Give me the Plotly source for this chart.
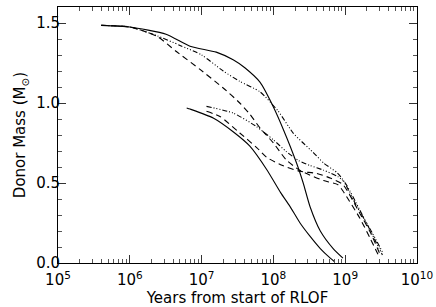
import plotly.graph_objects as go

# Upper group (initial donor mass ~1.48 Msun)
up_solid_x = [4e5, 1e6, 3.2e6, 6.9e6, 1.6e7, 2.75e7, 4e7, 6.5e7, 1e8, 1.38e8, 2.1e8, 2.6e8, 3.25e8, 4.5e8, 6.8e8, 9.3e8]
up_solid_y = [1.485, 1.475, 1.43, 1.355, 1.318, 1.27, 1.22, 1.13, 0.975, 0.833, 0.625, 0.5, 0.35, 0.2, 0.09, 0.03]

up_dashdot_x = [4e5, 1e6, 2.4e6, 5e6, 1e7, 2e7, 3.4e7, 6.5e7, 1.17e8, 1.9e8, 2.6e8, 3.6e8, 5e8, 7.8e8, 9.3e8, 1.45e9, 2.25e9, 3.4e9]
up_dashdot_y = [1.485, 1.475, 1.42, 1.36, 1.30, 1.20, 1.135, 1.07, 0.948, 0.81, 0.75, 0.69, 0.625, 0.5625, 0.52, 0.354, 0.208, 0.058]

up_dash_x = [4e5, 1e6, 2.4e6, 4.5e6, 9.5e6, 2e7, 3.4e7, 4.7e7, 6.5e7, 1e8, 1.5e8, 2.25e8, 3.2e8, 5e8, 7.9e8, 9.3e8, 1.6e9, 2.25e9, 3.0e9]
up_dash_y = [1.485, 1.475, 1.416, 1.32, 1.21, 1.094, 1.0, 0.93, 0.844, 0.75, 0.646, 0.583, 0.55, 0.515, 0.49, 0.45, 0.28, 0.15, 0.035]

# Lower group (initial donor mass ~0.97 Msun)
lo_solid_x = [6.2e6, 6.9e6, 1.45e7, 2.75e7, 4.7e7, 8.1e7, 1.26e8, 1.7e8, 2.35e8, 3.25e8, 4.5e8, 6.2e8, 7.1e8]
lo_solid_y = [0.969, 0.962, 0.906, 0.82, 0.73, 0.583, 0.44, 0.354, 0.25, 0.166, 0.09, 0.03, 0.008]

lo_dashdot_x = [1.17e7, 2.75e7, 5.75e7, 1e8, 1.5e8, 2.25e8, 3.2e8, 5e8, 7.9e8, 1e9, 1.6e9, 2.25e9, 3.3e9]
lo_dashdot_y = [0.979, 0.9375, 0.854, 0.77, 0.698, 0.64, 0.61, 0.58, 0.54, 0.50, 0.33, 0.2, 0.05]

lo_dash_x = [1.17e7, 1.8e7, 3.4e7, 5.9e7, 8.1e7, 1.26e8, 2.35e8, 4e8, 6.3e8, 9.3e8, 1.6e9, 2.25e9, 3.15e9]
lo_dash_y = [0.948, 0.916, 0.8125, 0.72, 0.66, 0.614, 0.573, 0.56, 0.53, 0.49, 0.31, 0.19, 0.04]

x_tickvals = [1e5, 1e6, 1e7, 1e8, 1e9, 1e10]
x_ticktext = ["10<sup>5</sup>", "10<sup>6</sup>", "10<sup>7</sup>", "10<sup>8</sup>", "10<sup>9</sup>", "10<sup>10</sup>"]
y_tickvals = [0.0, 0.5, 1.0, 1.5]
y_ticktext = ["0.0", "0.5", "1.0", "1.5"]

DASHDOT = "5px,2px,1px,2px,1px,2px,1px,2px"
DASH = "6px,4px"

fig = go.Figure()
series = [
    (up_solid_x, up_solid_y, "solid"),
    (up_dashdot_x, up_dashdot_y, DASHDOT),
    (up_dash_x, up_dash_y, DASH),
    (lo_solid_x, lo_solid_y, "solid"),
    (lo_dashdot_x, lo_dashdot_y, DASHDOT),
    (lo_dash_x, lo_dash_y, DASH),
]
for xs, ys, d in series:
    fig.add_trace(go.Scatter(x=xs, y=ys, mode="lines",
                             line=dict(color="black", width=1.1, dash=d, shape="spline", smoothing=0.6),
                             showlegend=False, hoverinfo="skip"))

font = dict(family="DejaVu Sans, Liberation Sans, sans-serif", size=15, color="black")
yfont = dict(family="DejaVu Sans, Liberation Sans, sans-serif", size=14, color="black")
fig.update_layout(
    width=436, height=307,
    margin=dict(l=58, r=19, t=7, b=44, autoexpand=False),
    paper_bgcolor="white", plot_bgcolor="white",
    font=font,
    xaxis=dict(type="log", range=[5, 10], tickvals=x_tickvals, ticktext=x_ticktext,
               ticks="inside", ticklen=8, tickwidth=1, tickcolor="#333",
               showline=True, linecolor="black", linewidth=1, mirror="ticks",
               showgrid=False, zeroline=False, automargin=False,
               ticklabelstandoff=3,
               minor=dict(ticks="inside", ticklen=4, tickwidth=1, tickcolor="#555", showgrid=False,
                          tickvals=[a * 10 ** e for e in range(5, 10) for a in range(2, 10)]),
               title=dict(text="Years from start of RLOF", standoff=6, font=font),
               tickfont=font),
    yaxis=dict(range=[0, 1.6], tickvals=y_tickvals, ticktext=y_ticktext,
               ticks="inside", ticklen=8, tickwidth=1, tickcolor="#333",
               showline=True, linecolor="black", linewidth=1, mirror="ticks",
               showgrid=False, zeroline=False, automargin=False,
               ticklabelstandoff=-6,
               minor=dict(ticks="inside", ticklen=4, tickwidth=1, tickcolor="#555", showgrid=False, dtick=0.1),
               title=dict(text="Donor Mass (M<sub>⊙</sub>)", standoff=6, font=font),
               tickfont=font),
)
fig.write_html("out.html", config={"displayModeBar": False},
               post_script="document.body.style.margin='0';document.body.style.padding='0';")
